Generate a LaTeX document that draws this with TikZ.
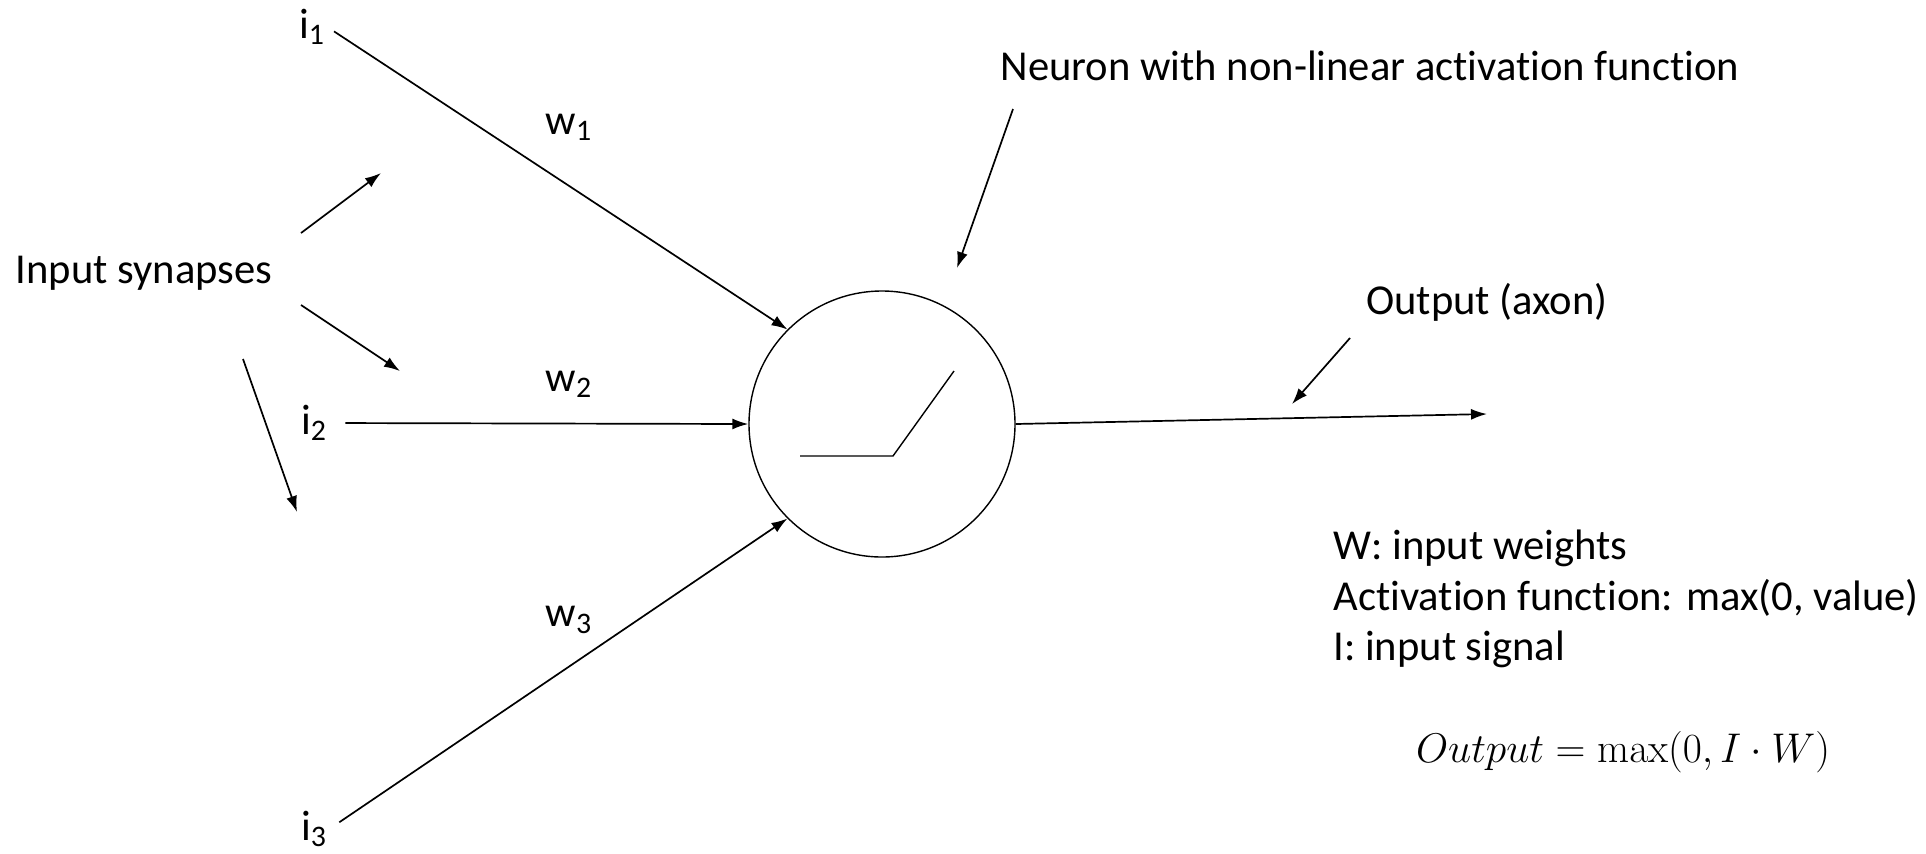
\documentclass[tikz,border=0pt]{standalone}
\usepackage[no-math]{fontspec}
\setmainfont{Carlito}[RawFeature=-liga]
\usetikzlibrary{arrows.meta}
\begin{document}
\begin{tikzpicture}[x=0.5pt,y=-0.5pt,
  lbl/.style={font=\fontsize{21.3}{25.5}\selectfont, inner sep=1pt},
  conn/.style={line width=0.85pt, -{Latex[length=8pt,width=5.5pt]}},
  plain/.style={line width=0.7pt}]
\useasboundingbox (0,0) rectangle (1926,853);
% neuron
\node[circle, draw, line width=0.7pt, minimum size=133pt, inner sep=0pt] (neuron) at (882,424) {};
\draw[plain] (800,456) -- (893,456) -- (954,371);
% labels
\node[lbl] (syn) at (144,273) {Input synapses};
\node[lbl] (i1) at (312,27) {i\textsubscript{1}};
\node[lbl] (i2) at (314,423) {i\textsubscript{2}};
\node[lbl] (i3) at (314,829) {i\textsubscript{3}};
\node[lbl] (w1) at (569,127) {w\textsubscript{1}};
\node[lbl] (w2) at (569,384) {w\textsubscript{2}};
\node[lbl] (w3) at (569,620) {w\textsubscript{3}};
\node[lbl] (nlab) at (1370,66) {Neuron with non-linear activation function};
\node[lbl] (olab) at (1487,302) {Output (axon)};
\node[lbl, anchor=west] (t1) at (1331,548) {W: input weights};
\node[lbl, anchor=west] (t2) at (1331,598) {Activation function: max(0, value)};
\node[lbl, anchor=west] (t3) at (1331,649) {I: input signal};
\node[lbl] (formula) at (1623,752) {$Output=\max(0,I\cdot W)$};
% input connectors
\draw[conn, shorten <=4pt] (i1.east) -- (neuron.135);
\draw[conn, shorten <=8pt] (i2.east) -- (neuron.west);
\draw[conn, shorten <=6pt] (i3.east) -- (neuron.225);
% output
\coordinate (outend) at (1487,414);
\draw[conn] (neuron.east) -- (outend);
% synapse pointers
\coordinate (a1s) at (301,233); \coordinate (a1e) at (381,173);
\coordinate (a2s) at (301,305); \coordinate (a2e) at (400,371);
\coordinate (a3s) at (243,359); \coordinate (a3e) at (297,512);
\draw[conn] (a1s) -- (a1e);
\draw[conn] (a2s) -- (a2e);
\draw[conn] (a3s) -- (a3e);
% label pointers
\coordinate (ns) at (1013,109); \coordinate (ne) at (957,268);
\draw[conn] (ns) -- (ne);
\coordinate (os) at (1350,338); \coordinate (oe) at (1292,404);
\draw[conn] (os) -- (oe);
\end{tikzpicture}
\end{document}
